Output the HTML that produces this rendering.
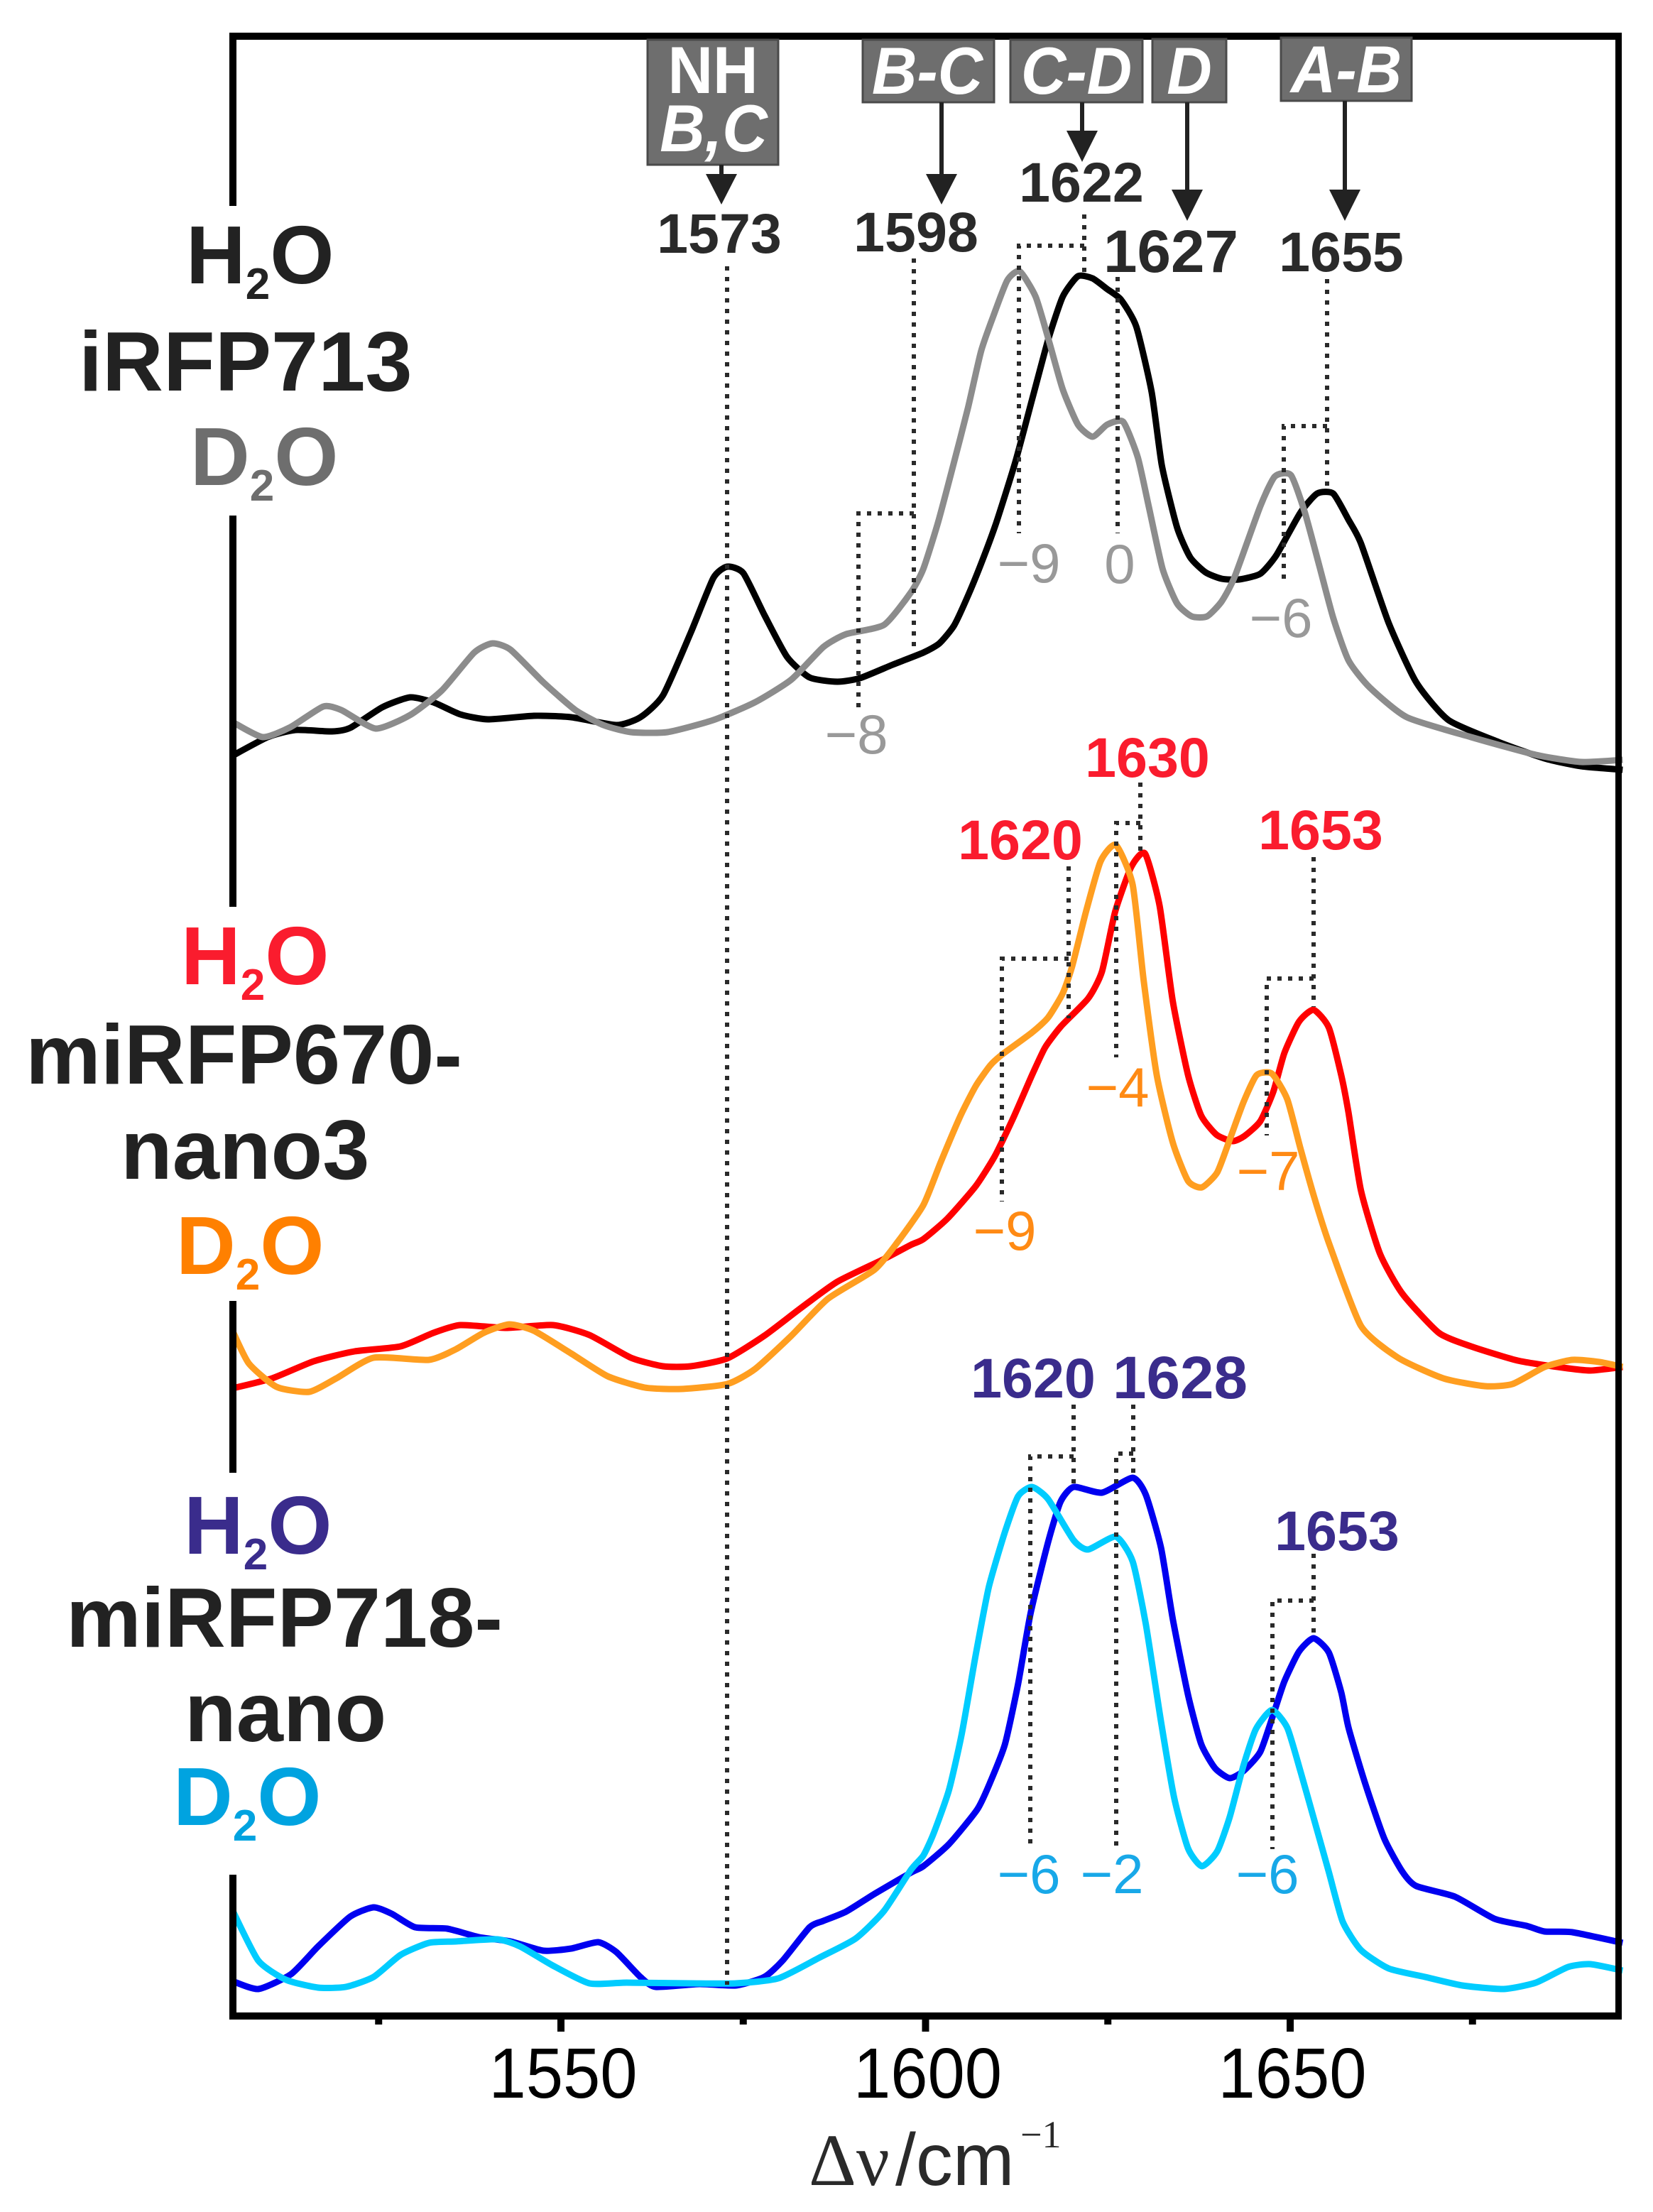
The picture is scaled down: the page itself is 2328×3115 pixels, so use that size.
<!DOCTYPE html>
<html lang="en">
<head>
<meta charset="utf-8">
<title>Raman spectra of iRFP713, miRFP670-nano3 and miRFP718-nano</title>
<style>
html,body{margin:0;padding:0;background:#fff;}
svg{display:block;}
.big{font-family:"Liberation Sans",sans-serif;font-weight:700;font-size:119px;text-anchor:start;}
.water{font-size:116px;}
.sub{font-size:62px;}
.peak{font-family:"Liberation Sans",sans-serif;font-weight:700;font-size:79px;text-anchor:middle;}
.shift{font-family:"Liberation Sans",sans-serif;font-weight:400;font-size:78px;text-anchor:middle;}
.box-text{font-family:"Liberation Sans",sans-serif;font-weight:700;font-size:88px;fill:#fff;text-anchor:middle;}
.ital{font-style:italic;}
.tick-label{font-family:"Liberation Sans",sans-serif;font-size:94px;fill:#000;text-anchor:middle;}
.dot{stroke:#2a2a2a;stroke-width:6;stroke-dasharray:6 9;fill:none;}
.arrow-line{stroke:#222;stroke-width:6;}
.arrow-head{fill:#222;}
.box{fill:#6e6e6e;stroke:#4a4a4a;stroke-width:3;}
</style>
</head>
<body>
<svg id="chart" xmlns="http://www.w3.org/2000/svg" width="2328" height="3115" viewBox="0 0 2328 3115">
  <rect x="0" y="0" width="2328" height="3115" fill="#fff"/>
  <g id="curves"></g>

  <g stroke="#000" fill="none">
    <line x1="323" y1="51" x2="2284" y2="51" stroke-width="10"/>
    <line x1="2279.5" y1="46" x2="2279.5" y2="2844" stroke-width="9"/>
    <line x1="323" y1="2839" x2="2284" y2="2839" stroke-width="10"/>
    <line x1="328" y1="46" x2="328" y2="290" stroke-width="10"/>
    <line x1="328" y1="726" x2="328" y2="1277" stroke-width="10"/>
    <line x1="328" y1="1832" x2="328" y2="2074" stroke-width="10"/>
    <line x1="328" y1="2640" x2="328" y2="2844" stroke-width="10"/>
  </g>
  <g id="ticks"></g>

  <g>
    <path class="dot" d="M1024 375V2795"/>
    <path class="dot" d="M1287 364V919"/>
    <path class="dot" d="M1287 723H1209V1003"/>
    <path class="dot" d="M1527 302V389"/>
    <path class="dot" d="M1527 346H1435V751"/>
    <path class="dot" d="M1574 390V751"/>
    <path class="dot" d="M1869 393V691"/>
    <path class="dot" d="M1869 600H1808V820"/>

    <path class="dot" d="M1606 1102V1201"/>
    <path class="dot" d="M1606 1159H1572V1489"/>
    <path class="dot" d="M1505 1220V1434"/>
    <path class="dot" d="M1505 1350H1411V1692"/>
    <path class="dot" d="M1850 1207V1418"/>
    <path class="dot" d="M1850 1378H1784V1599"/>

    <path class="dot" d="M1512 1978V2090"/>
    <path class="dot" d="M1512 2051H1451V2604"/>
    <path class="dot" d="M1596 1978V2081"/>
    <path class="dot" d="M1596 2047H1572V2602"/>
    <path class="dot" d="M1850 2188V2307"/>
    <path class="dot" d="M1850 2254H1792V2604"/>
  </g>

  <g>
    <rect class="box" x="912" y="56" width="184" height="176"/>
    <text class="box-text" transform="translate(1004,131) scale(1,1.06)">NH</text>
    <text class="box-text ital" transform="translate(1005,213) scale(1,1.06)">B,C</text>
    <line class="arrow-line" x1="1016" y1="232" x2="1016" y2="250"/>
    <polygon class="arrow-head" points="994,245 1038,245 1016,288"/>
  </g>
  <g>
    <rect class="box" x="1215" y="56" width="185" height="88"/>
    <text class="box-text ital" transform="translate(1306,132) scale(1,1.06)">B-C</text>
    <line class="arrow-line" x1="1326" y1="144" x2="1326" y2="250"/>
    <polygon class="arrow-head" points="1304,245 1348,245 1326,288"/>
  </g>
  <g>
    <rect class="box" x="1423" y="56" width="186" height="88"/>
    <text class="box-text ital" transform="translate(1516,132) scale(1,1.06)">C-D</text>
    <line class="arrow-line" x1="1524" y1="144" x2="1524" y2="190"/>
    <polygon class="arrow-head" points="1502,184 1546,184 1524,228"/>
  </g>
  <g>
    <rect class="box" x="1623" y="55" width="104" height="89"/>
    <text class="box-text ital" transform="translate(1675,132) scale(1,1.06)">D</text>
    <line class="arrow-line" x1="1672" y1="144" x2="1672" y2="272"/>
    <polygon class="arrow-head" points="1650,267 1694,267 1672,311"/>
  </g>
  <g>
    <rect class="box" x="1804" y="53" width="184" height="89"/>
    <text class="box-text ital" transform="translate(1896,130) scale(1,1.06)">A-B</text>
    <line class="arrow-line" x1="1894" y1="142" x2="1894" y2="272"/>
    <polygon class="arrow-head" points="1872,267 1916,267 1894,311"/>
  </g>

  <g fill="#2a2a2a">
    <text class="peak" x="1013" y="356">1573</text>
    <text class="peak" x="1290" y="354">1598</text>
    <text class="peak" x="1523" y="284">1622</text>
    <text class="peak" x="1649" y="383" textLength="190" lengthAdjust="spacingAndGlyphs" style="font-size:84px">1627</text>
    <text class="peak" x="1889" y="382">1655</text>
  </g>
  <g fill="#999">
    <text class="shift" x="1449" y="820">−9</text>
    <text class="shift" x="1577" y="821">0</text>
    <text class="shift" x="1804" y="897">−6</text>
    <text class="shift" x="1206" y="1061">−8</text>
  </g>
  <g fill="#fa1c2e">
    <text class="peak" x="1616" y="1094">1630</text>
    <text class="peak" x="1437" y="1210">1620</text>
    <text class="peak" x="1860" y="1196">1653</text>
  </g>
  <g fill="#ff8a14">
    <text class="shift" x="1574" y="1558">−4</text>
    <text class="shift" x="1786" y="1676">−7</text>
    <text class="shift" x="1415" y="1760">−9</text>
  </g>
  <g fill="#3a2c8c">
    <text class="peak" x="1455" y="1968">1620</text>
    <text class="peak" x="1662" y="1969" textLength="190" lengthAdjust="spacingAndGlyphs" style="font-size:84px">1628</text>
    <text class="peak" x="1883" y="2183">1653</text>
  </g>
  <g fill="#18a8e8">
    <text class="shift" x="1449" y="2666">−6</text>
    <text class="shift" x="1566" y="2666">−2</text>
    <text class="shift" x="1785" y="2666">−6</text>
  </g>

  <g>
    <text class="big water" x="262" y="399" fill="#222">H<tspan class="sub" dy="22">2</tspan><tspan dy="-22">O</tspan></text>
    <text class="big" x="111" y="550" fill="#222">iRFP713</text>
    <text class="big water" x="268" y="683" fill="#6e6e6e">D<tspan class="sub" dy="22">2</tspan><tspan dy="-22">O</tspan></text>

    <text class="big water" x="255" y="1386" fill="#fa1c2e">H<tspan class="sub" dy="22">2</tspan><tspan dy="-22">O</tspan></text>
    <text class="big" x="36" y="1526" fill="#222">miRFP670-</text>
    <text class="big" x="170" y="1660" fill="#222">nano3</text>
    <text class="big water" x="248" y="1794" fill="#ff8000">D<tspan class="sub" dy="22">2</tspan><tspan dy="-22">O</tspan></text>

    <text class="big water" x="259" y="2188" fill="#3a2c8c">H<tspan class="sub" dy="22">2</tspan><tspan dy="-22">O</tspan></text>
    <text class="big" x="93" y="2319" fill="#222">miRFP718-</text>
    <text class="big" x="260" y="2452" fill="#222">nano</text>
    <text class="big water" x="244" y="2570" fill="#00a3e0">D<tspan class="sub" dy="22">2</tspan><tspan dy="-22">O</tspan></text>
  </g>

  <text y="3077" fill="#2a2a2a"><tspan x="1139" font-family="'Liberation Serif',serif" font-size="104">Δν</tspan><tspan x="1261" font-family="'Liberation Sans',sans-serif" font-size="104">/cm</tspan><tspan x="1437" y="3024" font-family="'Liberation Serif',serif" font-size="54">−1</tspan></text>
</svg>

<script>
// X axis tick values
const majorTickValues = [1550, 1600, 1650];
const minorTickValues = [1525, 1575, 1625, 1675];

// iRFP713 in H2O
const irfpH2oWavenumbers = [1505.0,1509.8,1513.6,1518.6,1521.1,1525.5,1529.3,1532.5,1536.2,1540.0,1546.3,1551.4,1557.6,1560.9,1564.0,1567.8,1570.9,1572.8,1575.0,1577.9,1581.0,1584.1,1587.9,1591.0,1595.5,1599.7,1601.9,1603.9,1605.9,1607.8,1609.7,1612.3,1614.6,1616.8,1618.8,1620.9,1622.9,1624.9,1626.8,1628.9,1631.0,1632.4,1634.5,1636.3,1638.4,1640.6,1643.0,1645.9,1648.1,1651.4,1653.7,1655.9,1658.0,1659.7,1663.5,1667.3,1671.7,1678.6,1684.9,1689.9,1695.6];
const irfpH2oIntensity = [3.6,6.2,7.2,7.0,7.5,10.4,11.8,11.1,9.4,8.7,9.2,9.0,7.9,9.0,12.1,20.9,28.6,30.2,29.3,23.4,17.5,14.6,14.0,14.5,16.4,18.1,19.4,21.9,26.3,31.1,36.4,44.9,53.7,62.1,68.2,71.1,70.8,69.3,67.8,64.0,54.8,44.5,35.7,31.5,29.4,28.5,28.4,29.2,31.8,37.8,40.5,40.5,36.8,33.5,22.3,13.9,8.6,5.5,3.2,2.1,1.6];

// iRFP713 in D2O
const irfpD2oWavenumbers = [1505.0,1509.1,1512.9,1517.4,1519.9,1524.6,1529.3,1533.7,1538.1,1540.6,1543.1,1547.6,1552.0,1555.8,1559.6,1564.6,1570.9,1576.6,1581.6,1586.0,1589.1,1594.3,1598.0,1599.7,1601.7,1603.7,1605.8,1607.6,1609.3,1611.2,1612.9,1615.1,1617.0,1618.8,1620.9,1622.9,1624.9,1627.1,1629.1,1630.6,1632.5,1634.5,1636.5,1638.6,1640.6,1642.4,1645.9,1647.9,1650.1,1652.0,1654.0,1655.9,1658.0,1660.9,1666.0,1674.8,1683.7,1689.9,1695.6];
const irfpD2oIntensity = [8.3,6.2,7.6,10.5,10.0,7.4,9.3,12.8,18.1,19.4,18.5,13.9,10.0,7.9,6.9,6.9,8.6,11.1,14.3,18.9,20.7,22.0,26.6,29.9,36.4,44.1,52.5,60.5,65.5,70.5,71.8,68.2,61.7,55.2,50.2,48.5,50.2,50.6,45.6,38.7,29.9,25.0,23.2,23.2,25.3,28.8,38.7,42.9,43.1,37.9,30.3,23.0,17.0,13.2,9.0,6.2,3.7,2.7,3.0];

// miRFP670-nano3 in H2O
const nano3H2oWavenumbers = [1505.0,1510.4,1516.1,1521.7,1528.0,1532.5,1536.2,1542.5,1548.9,1553.9,1559.6,1564.0,1567.8,1572.8,1577.9,1582.9,1587.9,1594.3,1598.0,1599.7,1603.0,1606.9,1609.5,1612.0,1614.6,1616.4,1618.6,1622.3,1624.2,1626.0,1628.2,1630.1,1632.1,1633.9,1636.0,1637.8,1639.9,1642.1,1643.7,1645.9,1647.7,1649.2,1651.2,1653.2,1655.3,1657.0,1658.0,1659.7,1662.3,1665.4,1670.4,1674.8,1681.2,1687.4,1691.2,1695.6];
const nano3H2oIntensity = [4.5,5.9,8.3,9.7,10.4,12.3,13.4,13.0,13.4,12.0,8.8,7.6,7.6,8.7,11.9,15.8,19.5,22.7,24.7,25.5,28.4,33.0,37.2,42.5,48.6,52.5,55.5,59.4,63.2,71.6,77.9,79.8,72.4,59.0,48.6,42.9,40.2,39.3,40.0,42.1,46.3,51.7,56.1,57.8,55.3,48.6,43.3,32.4,23.5,17.8,12.3,10.4,8.4,7.4,7.0,7.5];

// miRFP670-nano3 in D2O
const nano3D2oWavenumbers = [1505.0,1507.2,1511.0,1515.5,1519.2,1524.3,1531.9,1535.6,1539.4,1542.9,1546.3,1551.4,1556.4,1561.5,1566.5,1572.8,1576.6,1581.6,1586.6,1593.0,1596.1,1599.7,1602.1,1604.8,1606.9,1608.9,1610.5,1614.6,1616.8,1618.8,1620.1,1622.0,1624.0,1626.1,1628.4,1629.9,1631.7,1633.9,1636.0,1637.9,1640.0,1641.7,1643.6,1645.4,1647.5,1649.6,1651.4,1653.3,1655.3,1659.7,1664.8,1671.0,1676.7,1680.5,1684.9,1688.7,1692.4,1695.6];
const nano3D2oIntensity = [12.5,8.0,4.7,4.0,5.9,8.8,8.5,10.0,12.3,13.5,12.6,9.4,6.2,4.6,4.4,5.1,7.2,11.9,17.1,21.2,25.0,30.3,36.4,42.9,47.1,50.0,51.5,54.6,56.7,60.1,63.9,71.6,78.7,81.0,75.4,62.0,48.6,39.1,33.7,32.8,34.9,39.5,44.8,48.6,48.8,45.2,38.3,31.4,25.0,13.3,8.8,5.9,4.8,5.1,7.5,8.5,8.2,7.5];

// miRFP718-nano in H2O
const nanoH2oWavenumbers = [1505.0,1508.5,1513.0,1516.7,1521.1,1524.3,1526.8,1530.0,1534.4,1538.8,1543.1,1547.6,1551.4,1555.1,1557.6,1560.9,1563.0,1569.0,1574.0,1577.9,1580.4,1584.1,1586.0,1589.1,1593.0,1598.0,1599.7,1603.2,1607.1,1608.9,1610.9,1612.7,1614.4,1616.8,1618.5,1620.3,1624.2,1628.4,1630.2,1632.3,1633.9,1636.0,1637.8,1639.7,1641.7,1643.6,1645.9,1647.7,1649.2,1651.2,1653.2,1655.3,1657.0,1658.0,1660.3,1662.9,1665.4,1667.3,1672.6,1678.0,1682.4,1684.9,1688.7,1695.6];
const nanoH2oIntensity = [5.0,3.9,6.0,9.9,14.1,15.4,14.5,12.6,12.4,11.2,10.6,9.3,9.6,10.5,9.1,5.6,4.2,4.6,4.4,5.6,7.9,12.6,13.5,14.8,17.3,20.3,21.2,24.3,29.2,33.1,38.4,46.9,56.8,66.8,72.5,74.6,73.8,75.9,73.5,66.0,56.0,45.3,38.4,35.0,33.6,34.6,37.3,42.6,47.2,51.4,53.3,51.3,45.7,40.7,32.8,25.1,20.4,18.4,16.9,13.8,12.8,12.0,11.9,10.4];

// miRFP718-nano in D2O
const nanoD2oWavenumbers = [1505.0,1508.5,1512.3,1516.7,1520.5,1524.3,1528.0,1531.9,1535.6,1541.3,1544.4,1548.9,1553.9,1559.0,1567.8,1574.0,1579.8,1585.4,1590.4,1594.3,1598.0,1599.7,1601.1,1603.2,1605.0,1606.9,1608.7,1610.9,1612.7,1614.6,1616.8,1620.3,1622.3,1626.1,1628.4,1630.2,1632.3,1634.1,1636.0,1637.9,1640.0,1641.7,1643.6,1645.3,1647.5,1649.6,1651.4,1653.3,1655.3,1657.2,1659.7,1663.5,1668.5,1673.6,1679.3,1683.7,1688.1,1691.2,1695.6];
const nanoD2oIntensity = [14.9,7.9,5.2,4.1,4.2,5.6,8.7,10.4,10.6,10.9,9.9,7.2,4.7,4.8,4.7,4.7,5.4,8.3,11.0,14.9,20.7,22.7,25.8,31.9,40.0,51.1,60.6,68.3,73.3,74.6,72.9,67.1,65.8,67.6,64.1,55.3,41.5,30.8,23.7,21.2,23.3,28.1,35.4,40.5,43.2,40.7,34.6,27.7,20.4,13.4,9.4,6.8,5.6,4.4,3.9,4.8,7.0,7.4,6.5];

const SVG_NS = 'http://www.w3.org/2000/svg';

function xAxis(wavenumber) {
  return 790 + (wavenumber - 1550) * 10.27;
}
function yAxisIrfp(intensity) {
  return 1100 - intensity * 10;
}
function yAxisNano3(intensity) {
  return 2000 - intensity * 10;
}
function yAxisNano(intensity) {
  return 2840 - intensity * 10;
}
function smoothPath(xs, ys, yAxis) {
  const px = xs.map(xAxis);
  const py = ys.map(yAxis);
  const k = 1 / 10;
  let d = 'M' + px[0].toFixed(1) + ' ' + py[0].toFixed(1);
  for (let i = 0; i < px.length - 1; i++) {
    const a = Math.max(i - 1, 0);
    const b = Math.min(i + 2, px.length - 1);
    const c1x = px[i] + (px[i + 1] - px[a]) * k;
    const c1y = py[i] + (py[i + 1] - py[a]) * k;
    const c2x = px[i + 1] - (px[b] - px[i]) * k;
    const c2y = py[i + 1] - (py[b] - py[i]) * k;
    d += 'C' + c1x.toFixed(1) + ' ' + c1y.toFixed(1) + ' ' + c2x.toFixed(1) + ' ' + c2y.toFixed(1) + ' ' + px[i + 1].toFixed(1) + ' ' + py[i + 1].toFixed(1);
  }
  return d;
}
function drawCurve(name, xs, ys, yAxis, colour) {
  const p = document.createElementNS(SVG_NS, 'path');
  p.setAttribute('d', smoothPath(xs, ys, yAxis));
  p.setAttribute('fill', 'none');
  p.setAttribute('stroke', colour);
  p.setAttribute('stroke-width', '9');
  p.setAttribute('stroke-linejoin', 'round');
  p.setAttribute('stroke-linecap', 'butt');
  
  
  document.getElementById('curves').appendChild(p);
}

drawCurve('curve-irfp713-h2o', irfpH2oWavenumbers, irfpH2oIntensity, yAxisIrfp, '#000000');
drawCurve('curve-irfp713-d2o', irfpD2oWavenumbers, irfpD2oIntensity, yAxisIrfp, '#8c8c8c');
drawCurve('curve-nano3-h2o', nano3H2oWavenumbers, nano3H2oIntensity, yAxisNano3, '#ff0000');
drawCurve('curve-nano3-d2o', nano3D2oWavenumbers, nano3D2oIntensity, yAxisNano3, '#ff9e20');
drawCurve('curve-nano-h2o', nanoH2oWavenumbers, nanoH2oIntensity, yAxisNano, '#0000f0');
drawCurve('curve-nano-d2o', nanoD2oWavenumbers, nanoD2oIntensity, yAxisNano, '#00ccff');

const ticksGroup = document.getElementById('ticks');
function drawTick(value, bottomY) {
  const t = document.createElementNS(SVG_NS, 'line');
  t.setAttribute('x1', xAxis(value));
  t.setAttribute('x2', xAxis(value));
  t.setAttribute('y1', 2839);
  t.setAttribute('y2', bottomY);
  t.setAttribute('stroke', '#000');
  t.setAttribute('stroke-width', 10);
  
  
  ticksGroup.appendChild(t);
}
majorTickValues.forEach(function (value) {
  drawTick(value, 2861);
  const label = document.createElementNS(SVG_NS, 'text');
  label.setAttribute('class', 'tick-label');
  label.setAttribute('transform', 'translate(' + (xAxis(value) + 3) + ',2954) scale(1,1.07)');
  
  
  label.textContent = String(value);
  ticksGroup.appendChild(label);
});
minorTickValues.forEach(function (value) {
  drawTick(value, 2851);
});
</script>
</body>
</html>
